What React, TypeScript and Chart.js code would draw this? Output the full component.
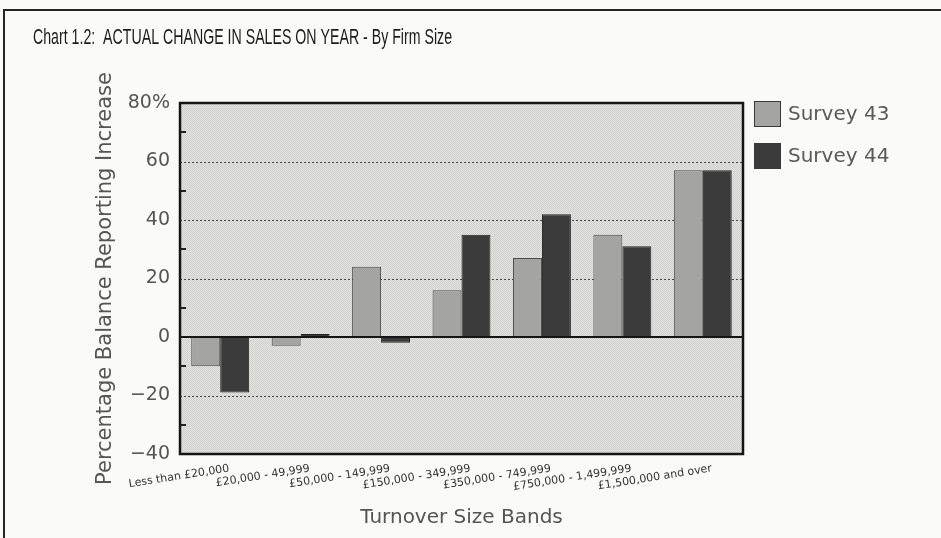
import React, { useEffect, useRef } from 'react';
import { Chart, registerables } from 'chart.js';

Chart.register(...registerables);

// ---- data ----
const categories = [
  'Less than £20,000',
  '£20,000 - 49,999',
  '£50,000 - 149,999',
  '£150,000 - 349,999',
  '£350,000 - 749,999',
  '£750,000 - 1,499,999',
  '£1,500,000 and over',
];
const survey43 = [-10, -3, 24, 16, 27, 35, 57];
const survey44 = [-19, 1, -2, 35, 42, 31, 57];
const seriesLabels = ['Survey 43', 'Survey 44'];

const yMin = -40;
const yMax = 80;
const yStep = 20;
const dottedGridValues = [60, 40, 20, -20];
const minorTickValues = [70, 50, 30, 10, -10, -30];

const titleText = 'Chart 1.2:  ACTUAL CHANGE IN SALES ON YEAR - By Firm Size';
const yAxisTitle = 'Percentage Balance Reporting Increase';
const xAxisTitle = 'Turnover Size Bands';

const W = 941;
const H = 538;
const ROUND_FONT = '"DejaVu Sans", "Noto Sans", sans-serif';

function makePattern(ctx: CanvasRenderingContext2D) {
  const c = document.createElement('canvas');
  c.width = 2;
  c.height = 2;
  const p = c.getContext('2d')!;
  p.fillStyle = '#e3e3e1';
  p.fillRect(0, 0, 2, 2);
  p.fillStyle = '#d0d0ce';
  p.fillRect(0, 0, 1, 1);
  p.fillRect(1, 1, 1, 1);
  return ctx.createPattern(c, 'repeat');
}

const decorPlugin = {
  id: 'decor',
  beforeDraw(chart: any) {
    const { ctx, width, height, chartArea: ca } = chart;
    ctx.save();
    ctx.fillStyle = '#fafaf8';
    ctx.fillRect(0, 0, width, height);
    // outer frame of the page
    ctx.strokeStyle = '#262626';
    ctx.lineWidth = 2;
    ctx.beginPath();
    ctx.moveTo(4, height);
    ctx.lineTo(4, 10);
    ctx.lineTo(width, 10);
    ctx.stroke();
    // plot background
    ctx.fillStyle = makePattern(ctx) || '#d8d8d8';
    ctx.fillRect(ca.left, ca.top, ca.right - ca.left, ca.bottom - ca.top);
    ctx.restore();
  },
  beforeDatasetsDraw(chart: any) {
    const { ctx, chartArea: ca, scales } = chart;
    const y = scales.y;
    ctx.save();
    ctx.strokeStyle = '#4a4a4a';
    ctx.lineWidth = 1;
    ctx.setLineDash([2, 2]);
    dottedGridValues.forEach((v) => {
      const py = Math.round(y.getPixelForValue(v)) + 0.5;
      ctx.beginPath();
      ctx.moveTo(ca.left, py);
      ctx.lineTo(ca.right, py);
      ctx.stroke();
    });
    ctx.setLineDash([]);
    ctx.strokeStyle = '#222';
    ctx.lineWidth = 2;
    minorTickValues.forEach((v) => {
      const py = Math.round(y.getPixelForValue(v));
      ctx.beginPath();
      ctx.moveTo(ca.left, py);
      ctx.lineTo(ca.left + 6, py);
      ctx.stroke();
    });
    ctx.restore();
  },
  afterDatasetsDraw(chart: any) {
    const { ctx, chartArea: ca, scales } = chart;
    const y = scales.y;
    ctx.save();
    ctx.strokeStyle = '#151515';
    ctx.lineWidth = 2;
    const zy = Math.round(y.getPixelForValue(0));
    ctx.beginPath();
    ctx.moveTo(ca.left, zy);
    ctx.lineTo(ca.right, zy);
    ctx.stroke();
    ctx.lineWidth = 2.5;
    ctx.strokeRect(ca.left, ca.top, ca.right - ca.left, ca.bottom - ca.top);
    ctx.restore();
  },
  afterDraw(chart: any) {
    const { ctx, chartArea: ca } = chart;
    ctx.save();
    // title (condensed sans)
    ctx.save();
    ctx.translate(33, 38);
    ctx.scale(0.63, 1);
    ctx.fillStyle = '#1c1c1c';
    ctx.font = '22.5px "Liberation Sans", Arial, sans-serif';
    ctx.textBaseline = 'middle';
    ctx.textAlign = 'left';
    ctx.fillText(titleText, 0, 0);
    ctx.restore();
    // legend
    chart.data.datasets.forEach((ds: any, i: number) => {
      const bx = ca.right + 11;
      const by = ca.top - 2 + i * 42;
      ctx.fillStyle = ds.backgroundColor;
      ctx.fillRect(bx, by, 27, 26);
      ctx.strokeStyle = '#3a3a3a';
      ctx.lineWidth = 1;
      ctx.strokeRect(bx + 0.5, by + 0.5, 26, 25);
      ctx.fillStyle = '#5a5a5a';
      ctx.font = `20px ${ROUND_FONT}`;
      ctx.textBaseline = 'middle';
      ctx.textAlign = 'left';
      ctx.fillText(ds.label, bx + 34, by + 14);
    });
    ctx.restore();
  },
};

export default function App() {
  const ref = useRef<HTMLCanvasElement | null>(null);

  useEffect(() => {
    if (!ref.current) return;
    const chart = new Chart(ref.current, {
      type: 'bar',
      data: {
        labels: categories,
        datasets: [
          {
            label: seriesLabels[0],
            data: survey43,
            backgroundColor: '#a4a4a2',
            borderColor: '#4a4a4a',
            borderWidth: 1,
            borderSkipped: false,
          },
          {
            label: seriesLabels[1],
            data: survey44,
            backgroundColor: '#3b3b3b',
            borderColor: '#222',
            borderWidth: 1,
            borderSkipped: false,
          },
        ],
      },
      options: {
        responsive: false,
        animation: false,
        devicePixelRatio: 1,
        categoryPercentage: 0.72,
        barPercentage: 1,
        layout: { padding: { left: 33, right: 198, top: 103, bottom: 0 } },
        plugins: {
          legend: { display: false },
          tooltip: { enabled: false },
          title: { display: false },
        },
        scales: {
          x: {
            grid: { display: false, drawTicks: false },
            border: { display: false },
            ticks: {
              autoSkip: false,
              minRotation: 9,
              maxRotation: 9,
              padding: 8,
              labelOffset: 9,
              color: '#333',
              font: { family: ROUND_FONT, size: 11 },
            },
            title: {
              display: true,
              text: xAxisTitle,
              color: '#555',
              font: { family: ROUND_FONT, size: 20 },
              padding: { top: 0, bottom: 8 },
            },
            afterFit: (s: any) => {
              s.height = 84;
            },
          },
          y: {
            min: yMin,
            max: yMax,
            grid: { display: false, drawTicks: false },
            border: { display: false },
            ticks: {
              stepSize: yStep,
              padding: 10,
              color: '#555',
              font: { family: ROUND_FONT, size: 19 },
              callback: (v: any) => {
                const n = Number(v);
                if (n === yMax) return `${n}%`;
                if (n < 0) return `\u2212${Math.abs(n)}`;
                return `${n}`;
              },
            },
            title: {
              display: true,
              text: yAxisTitle,
              color: '#555',
              font: { family: ROUND_FONT, size: 21 },
              padding: { top: 60, bottom: 0 },
            },
            afterFit: (s: any) => {
              s.width = 147;
            },
          },
        },
      },
      plugins: [decorPlugin],
    } as any);
    return () => chart.destroy();
  }, []);

  return (
    <div style={{ position: 'fixed', left: 0, top: 0, width: W, height: H, overflow: 'hidden' }}>
      <canvas ref={ref} width={W} height={H} style={{ display: 'block', width: W, height: H }} />
    </div>
  );
}
